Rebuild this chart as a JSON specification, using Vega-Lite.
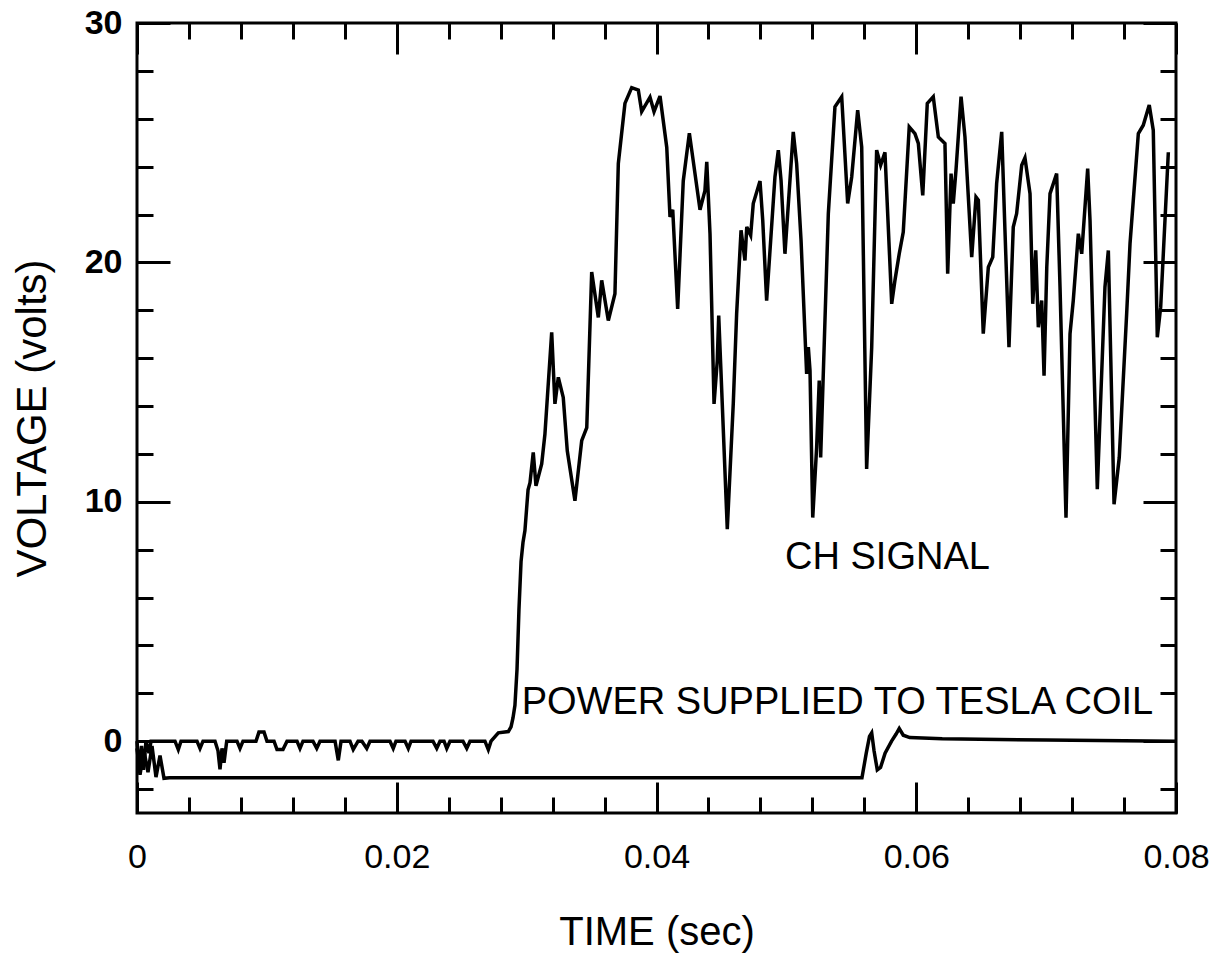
{
  "$schema": "https://vega.github.io/schema/vega-lite/v6.json",
  "width": 1039,
  "height": 790,
  "autosize": {"type": "none"},
  "padding": {"left": 137, "top": 23, "right": 47, "bottom": 148},
  "background": "white",
  "config": {
    "view": {"stroke": "black", "strokeWidth": 3},
    "font": "Liberation Sans",
    "axis": {"domain": false, "grid": false, "tickColor": "black", "tickWidth": 3, "labelColor": "black", "titleColor": "black", "labelFont": "Liberation Sans", "titleFont": "Liberation Sans", "titleFontWeight": "normal", "labelOverlap": false, "labelFlush": false}
  },
  "datasets": {
    "ch": [
      {"t":0,"v":0},{"t":0.000154,"v":-1.3},{"t":0.000346,"v":-0.2},{"t":0.0005,"v":-1.2},{"t":0.000693,"v":0},{"t":0.000924,"v":-0.5},{"t":0.001078,"v":0},
      {"t":0.002926,"v":0},{"t":0.00318,"v":-0.35},{"t":0.003388,"v":0},
      {"t":0.00462,"v":0},{"t":0.004851,"v":-0.3},{"t":0.005082,"v":0},
      {"t":0.006006,"v":0},{"t":0.006237,"v":-0.4},{"t":0.006391,"v":-1.18},{"t":0.006545,"v":-0.3},{"t":0.006699,"v":-0.9},{"t":0.006907,"v":0},
      {"t":0.0077,"v":0},{"t":0.00793,"v":-0.3},{"t":0.00816,"v":0},
      {"t":0.00916,"v":0},{"t":0.00939,"v":0.38},{"t":0.00978,"v":0.38},{"t":0.01001,"v":0},
      {"t":0.01055,"v":0},{"t":0.01078,"v":-0.35},{"t":0.01124,"v":-0.35},{"t":0.01155,"v":0},
      {"t":0.01232,"v":0},{"t":0.01255,"v":-0.3},{"t":0.01278,"v":0},
      {"t":0.01355,"v":0},{"t":0.01384,"v":-0.3},{"t":0.01409,"v":0},
      {"t":0.01525,"v":0},{"t":0.0155,"v":-0.8},{"t":0.01571,"v":0},
      {"t":0.0164,"v":0},{"t":0.01665,"v":-0.35},{"t":0.01702,"v":0},
      {"t":0.01732,"v":0},{"t":0.01769,"v":-0.3},{"t":0.01794,"v":0},
      {"t":0.01948,"v":0},{"t":0.01973,"v":-0.3},{"t":0.01994,"v":0},
      {"t":0.02064,"v":0},{"t":0.02089,"v":-0.3},{"t":0.0211,"v":0},
      {"t":0.02279,"v":0},{"t":0.02308,"v":-0.3},{"t":0.02333,"v":0},
      {"t":0.02364,"v":0},{"t":0.02385,"v":-0.3},{"t":0.0241,"v":0},
      {"t":0.0251,"v":0},{"t":0.02539,"v":-0.3},{"t":0.02564,"v":0},
      {"t":0.02679,"v":0},{"t":0.02705,"v":-0.35},{"t":0.02726,"v":0},
      {"t":0.02782,"v":0.35},{"t":0.02859,"v":0.4},{"t":0.0288,"v":0.6},{"t":0.02895,"v":0.97},{"t":0.0291,"v":1.5},{"t":0.02926,"v":3},{"t":0.02941,"v":5.5},{"t":0.02957,"v":7.5},{"t":0.02972,"v":8.3},{"t":0.02987,"v":8.8},{"t":0.03011,"v":10.5},{"t":0.03026,"v":10.8},
      {"t":0.03051,"v":12.06},{"t":0.03072,"v":10.67},{"t":0.03116,"v":11.58},{"t":0.03141,"v":12.83},{"t":0.03193,"v":17.08},{"t":0.03218,"v":14.09},{"t":0.03244,"v":15.2},{"t":0.03282,"v":14.36},{"t":0.03313,"v":12.13},{"t":0.03372,"v":10.04},{"t":0.03424,"v":12.55},{"t":0.03463,"v":13.1},{"t":0.03501,"v":19.6},{"t":0.03552,"v":17.7},{"t":0.03578,"v":19.25},{"t":0.03629,"v":17.57},{"t":0.0368,"v":18.69},{"t":0.03706,"v":24.13},{"t":0.03757,"v":26.64},{"t":0.03809,"v":27.3},{"t":0.0386,"v":27.2},{"t":0.03886,"v":26.3},{"t":0.0395,"v":26.9},{"t":0.03981,"v":26.3},{"t":0.04027,"v":26.95},{"t":0.04079,"v":24.8},{"t":0.04104,"v":21.9},{"t":0.04125,"v":22.2},{"t":0.04163,"v":18.06},{"t":0.04206,"v":23.4},{"t":0.04253,"v":25.4},{"t":0.04271,"v":24.7},{"t":0.04335,"v":22.2},{"t":0.04373,"v":23.0},{"t":0.04387,"v":24.2},{"t":0.04412,"v":21.2},{"t":0.04443,"v":14.09},{"t":0.04468,"v":15.9},{"t":0.04479,"v":17.78},{"t":0.04494,"v":15.76},{"t":0.04545,"v":8.86},{"t":0.04591,"v":14.09},{"t":0.04617,"v":17.85},{"t":0.04651,"v":21.34},{"t":0.04681,"v":20.08},{"t":0.04695,"v":21.48},{"t":0.04725,"v":21.13},{"t":0.04745,"v":22.46},{"t":0.04797,"v":23.4},{"t":0.04818,"v":21.76},{"t":0.04848,"v":18.4},{"t":0.04912,"v":23.57},{"t":0.04938,"v":24.69},{"t":0.04959,"v":23.43},{"t":0.04989,"v":20.36},{"t":0.05053,"v":25.45},{"t":0.05079,"v":24.13},{"t":0.05113,"v":20.92},{"t":0.05156,"v":15.34},{"t":0.05169,"v":16.46},{"t":0.05182,"v":15.48},{"t":0.05203,"v":9.34},{"t":0.05233,"v":12.27},{"t":0.05253,"v":15.06},{"t":0.05264,"v":11.85},{"t":0.05323,"v":22.04},{"t":0.05374,"v":26.5},{"t":0.05426,"v":26.92},{"t":0.05472,"v":22.46},{"t":0.05503,"v":23.57},{"t":0.05549,"v":26.36},{"t":0.0558,"v":24.82},{"t":0.05618,"v":11.37},{"t":0.05657,"v":16.46},{"t":0.05695,"v":24.69},{"t":0.05726,"v":24.06},{"t":0.05759,"v":24.6},{"t":0.05811,"v":18.27},{"t":0.05836,"v":19.25},{"t":0.05869,"v":20.36},{"t":0.059,"v":21.27},{"t":0.05946,"v":25.66},{"t":0.0599,"v":25.38},{"t":0.06016,"v":24.97},{"t":0.0605,"v":22.8},{"t":0.06085,"v":26.64},{"t":0.06131,"v":26.92},{"t":0.0617,"v":25.24},{"t":0.06221,"v":24.97},{"t":0.06242,"v":19.53},{"t":0.06268,"v":23.71},{"t":0.06285,"v":22.46},{"t":0.06306,"v":23.85},{"t":0.06345,"v":26.92},{"t":0.06375,"v":25.24},{"t":0.06427,"v":20.22},{"t":0.0646,"v":22.73},{"t":0.06478,"v":22.6},{"t":0.06516,"v":17.02},{"t":0.06555,"v":19.8},{"t":0.06589,"v":20.22},{"t":0.06619,"v":23.29},{"t":0.06658,"v":25.45},{"t":0.06683,"v":21.34},{"t":0.06714,"v":16.46},{"t":0.06747,"v":21.48},{"t":0.06773,"v":22.04},{"t":0.06812,"v":24.06},{"t":0.06837,"v":24.37},{"t":0.06876,"v":22.87},{"t":0.06897,"v":18.27},{"t":0.0692,"v":20.5},{"t":0.0694,"v":17.29},{"t":0.06966,"v":18.41},{"t":0.06984,"v":15.27},{"t":0.07005,"v":19.8},{"t":0.0703,"v":22.87},{"t":0.07081,"v":23.71},{"t":0.07107,"v":18.97},{"t":0.07153,"v":9.34},{"t":0.07184,"v":17.02},{"t":0.07209,"v":18.41},{"t":0.07248,"v":21.2},{"t":0.07274,"v":20.36},{"t":0.0732,"v":23.92},{"t":0.07338,"v":21.76},{"t":0.07394,"v":10.53},{"t":0.07453,"v":18.97},{"t":0.07479,"v":20.5},{"t":0.07523,"v":9.9},{"t":0.07563,"v":11.85},{"t":0.0762,"v":17.85},{"t":0.07646,"v":20.78},{"t":0.0771,"v":25.38},{"t":0.07748,"v":25.73},{"t":0.07794,"v":26.57},{"t":0.07825,"v":25.52},{"t":0.07856,"v":16.87},{"t":0.07882,"v":18.13},{"t":0.07941,"v":24.6}
    ],
    "pw": [
      {"t":0,"v":-0.3},{"t":0.000231,"v":-1.4},{"t":0.000539,"v":-0.4},{"t":0.000847,"v":-1.3},{"t":0.001155,"v":-0.2},{"t":0.001463,"v":-1.5},{"t":0.001771,"v":-0.6},{"t":0.002079,"v":-1.55},{"t":0.0025,"v":-1.53},
      {"t":0.05582,"v":-1.53},{"t":0.05615,"v":-0.5},{"t":0.0564,"v":0.2},{"t":0.05657,"v":0.35},{"t":0.05675,"v":-0.4},{"t":0.057,"v":-1.2},{"t":0.05725,"v":-1.1},{"t":0.0576,"v":-0.5},{"t":0.0581,"v":0.0},{"t":0.05845,"v":0.3},{"t":0.05869,"v":0.53},{"t":0.059,"v":0.25},{"t":0.0595,"v":0.15},{"t":0.062,"v":0.1},{"t":0.07,"v":0.05},{"t":0.08,"v":0.0}
    ],
    "notes": [
      {"t":0.0499,"v":7.66,"label":"CH SIGNAL"},
      {"t":0.02962,"v":1.6,"label":"POWER SUPPLIED TO TESLA COIL"}
    ]
  },
  "layer": [
    {
      "data": {"name": "ch"},
      "mark": {"type": "line", "color": "black", "strokeWidth": 3.5},
      "encoding": {
        "x": {"field": "t", "type": "quantitative", "scale": {"domain": [0, 0.08], "nice": false, "zero": false},
          "axis": {"orient": "bottom", "values": [0,0.004,0.008,0.012,0.016,0.024,0.028,0.032,0.036,0.044,0.048,0.052,0.056,0.064,0.068,0.072,0.076,0.08],
            "tickSize": -16, "labels": false, "title": null}},
        "y": {"field": "v", "type": "quantitative", "scale": {"domain": [-3, 30], "nice": false, "zero": false},
          "axis": {"orient": "left", "values": [-2,2,4,6,8,12,14,16,18,22,24,26,28],
            "tickSize": -16, "labels": false, "title": null}}
      }
    },
    {
      "data": {"name": "pw"},
      "mark": {"type": "line", "color": "black", "strokeWidth": 3.5},
      "encoding": {
        "x": {"field": "t", "type": "quantitative",
          "axis": {"orient": "top", "values": [0,0.004,0.008,0.012,0.016,0.024,0.028,0.032,0.036,0.044,0.048,0.052,0.056,0.064,0.068,0.072,0.076,0.08],
            "tickSize": -16, "labels": false, "title": null}},
        "y": {"field": "v", "type": "quantitative",
          "axis": {"orient": "right", "values": [-2,2,4,6,8,12,14,16,18,22,24,26,28],
            "tickSize": -16, "labels": false, "title": null}}
      }
    },
    {
      "data": {"name": "notes"},
      "transform": [{"filter": "datum.label == 'CH SIGNAL'"}],
      "mark": {"type": "text", "align": "left", "baseline": "middle", "fontSize": 38, "font": "Liberation Sans", "color": "black"},
      "encoding": {
        "x": {"field": "t", "type": "quantitative",
          "axis": {"orient": "bottom", "values": [0,0.02,0.04,0.06,0.08], "tickSize": -31,
            "labelExpr": "format(datum.value, '~g')",
            "labelFontSize": 34, "labelPadding": 58, "title": "TIME (sec)", "titleFontSize": 40, "titlePadding": 38}},
        "y": {"field": "v", "type": "quantitative",
          "axis": {"orient": "left", "values": [0,10,20,30], "tickSize": -33,
            "labelFontSize": 34, "labelFontWeight": "bold", "labelPadding": 48, "title": "VOLTAGE (volts)", "titleFontSize": 42, "titlePadding": 30}},
        "text": {"field": "label"}
      }
    },
    {
      "data": {"name": "notes"},
      "transform": [{"filter": "datum.label != 'CH SIGNAL'"}],
      "mark": {"type": "text", "align": "left", "baseline": "middle", "fontSize": 38, "font": "Liberation Sans", "color": "black"},
      "encoding": {
        "x": {"field": "t", "type": "quantitative",
          "axis": {"orient": "top", "values": [0,0.02,0.04,0.06,0.08], "tickSize": -31, "labels": false, "title": null}},
        "y": {"field": "v", "type": "quantitative",
          "axis": {"orient": "right", "values": [0,10,20,30], "tickSize": -33, "labels": false, "title": null}},
        "text": {"field": "label"}
      }
    }
  ],
  "resolve": {"axis": {"x": "independent", "y": "independent"}}
}
